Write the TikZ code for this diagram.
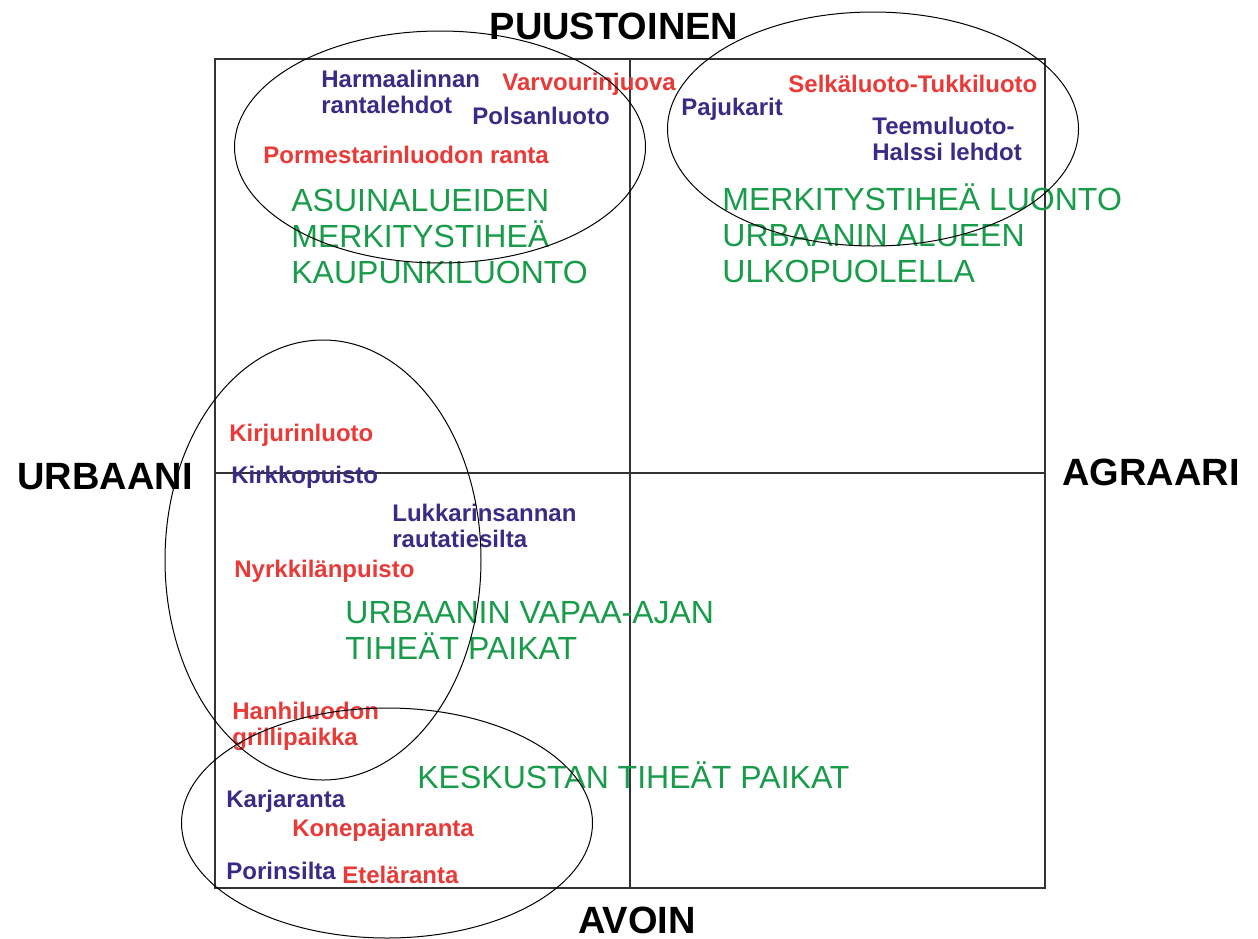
\documentclass[tikz,border=0pt]{standalone}
\usepackage{fontspec}
\setmainfont{Liberation Sans}
\usepackage{xcolor}
\usetikzlibrary{shapes.geometric}

\definecolor{placeblue}{RGB}{58,44,134}
\definecolor{placered}{RGB}{233,58,56}
\definecolor{zonegreen}{RGB}{24,156,74}

\begin{document}
\begin{tikzpicture}[
  x=0.5pt,y=-0.5pt,
  axislab/.style={inner sep=0,font=\fontsize{19}{22}\selectfont\bfseries},
  bluelab/.style={inner sep=0,anchor=base west,align=left,text=placeblue,
                  font=\fontsize{12}{13}\selectfont\bfseries},
  redlab/.style={inner sep=0,anchor=base west,align=left,text=placered,
                 font=\fontsize{12}{13}\selectfont\bfseries},
  zone/.style={inner sep=0,anchor=base west,align=left,text=zonegreen,
               font=\fontsize{16}{18}\selectfont},
  group/.style={draw,ellipse,inner sep=0,line width=0.5pt},
  axis/.style={draw,line width=0.6pt,black!80}
]
\useasboundingbox (0,0) rectangle (1258,938);

% frame and axes
\coordinate (nw) at (215,59);
\coordinate (se) at (1045,888);
\coordinate (top) at (630,59);
\coordinate (bot) at (630,888);
\coordinate (lft) at (215,473);
\coordinate (rgt) at (1045,473);
\draw[axis] (nw) rectangle (se);
\draw[axis] (top) -- (bot);
\draw[axis] (lft) -- (rgt);

\node[axislab,anchor=base] (puust) at (614,39) {PUUSTOINEN};
\node[axislab,anchor=base west] (urb) at (17,489) {URBAANI};
\node[axislab,anchor=base west] (agr) at (1062,485) {AGRAARI};
\node[axislab,anchor=base] (avo) at (637,933) {AVOIN};

% upper left (multi-line nodes sit on their last line)
\node[bluelab] (harm) at (321,113) {Harmaalinnan\\rantalehdot};
\node[redlab] (varv) at (502,90) {Varvourinjuova};
\node[bluelab] (pols) at (472,124) {Polsanluoto};
\node[redlab] (porm) at (263,163) {Pormestarinluodon ranta};
\node[zone] (asui) at (291,283) {ASUINALUEIDEN\\MERKITYSTIHEÄ\\KAUPUNKILUONTO};

% upper right
\node[bluelab] (paju) at (681,115) {Pajukarit};
\node[redlab] (selk) at (788,92) {Selkäluoto-Tukkiluoto};
\node[bluelab] (teem) at (872,160) {Teemuluoto-\\Halssi lehdot};
\node[zone] (merk) at (722,282) {MERKITYSTIHEÄ LUONTO\\URBAANIN ALUEEN\\ULKOPUOLELLA};

% lower left
\node[redlab] (kirj) at (229,441) {Kirjurinluoto};
\node[bluelab] (kirk) at (231,483) {Kirkkopuisto};
\node[bluelab] (lukk) at (392,547) {Lukkarinsannan\\rautatiesilta};
\node[redlab] (nyrk) at (234,577) {Nyrkkilänpuisto};
\node[zone] (vapaa) at (345,659) {URBAANIN VAPAA-AJAN\\TIHEÄT PAIKAT};
\node[redlab] (hanh) at (232,745) {Hanhiluodon\\grillipaikka};
\node[zone] (kesk) at (417,788) {KESKUSTAN TIHEÄT PAIKAT};
\node[bluelab] (karj) at (226,807) {Karjaranta};
\node[redlab] (kone) at (292,836) {Konepajanranta};
\node[bluelab] (pori) at (226,879) {Porinsilta};
\node[redlab] (etel) at (342,883) {Eteläranta};

% groupings
\node[group,minimum width=205.5pt,minimum height=116pt] (asuig) at (440,147) {};
\node[group,minimum width=205.5pt,minimum height=117pt] (merkg) at (873,129) {};
\node[group,minimum width=158pt,minimum height=220pt] (vapaag) at (323,560) {};
\node[group,minimum width=205.5pt,minimum height=115pt] (keskg) at (387,823) {};
\end{tikzpicture}
\end{document}
